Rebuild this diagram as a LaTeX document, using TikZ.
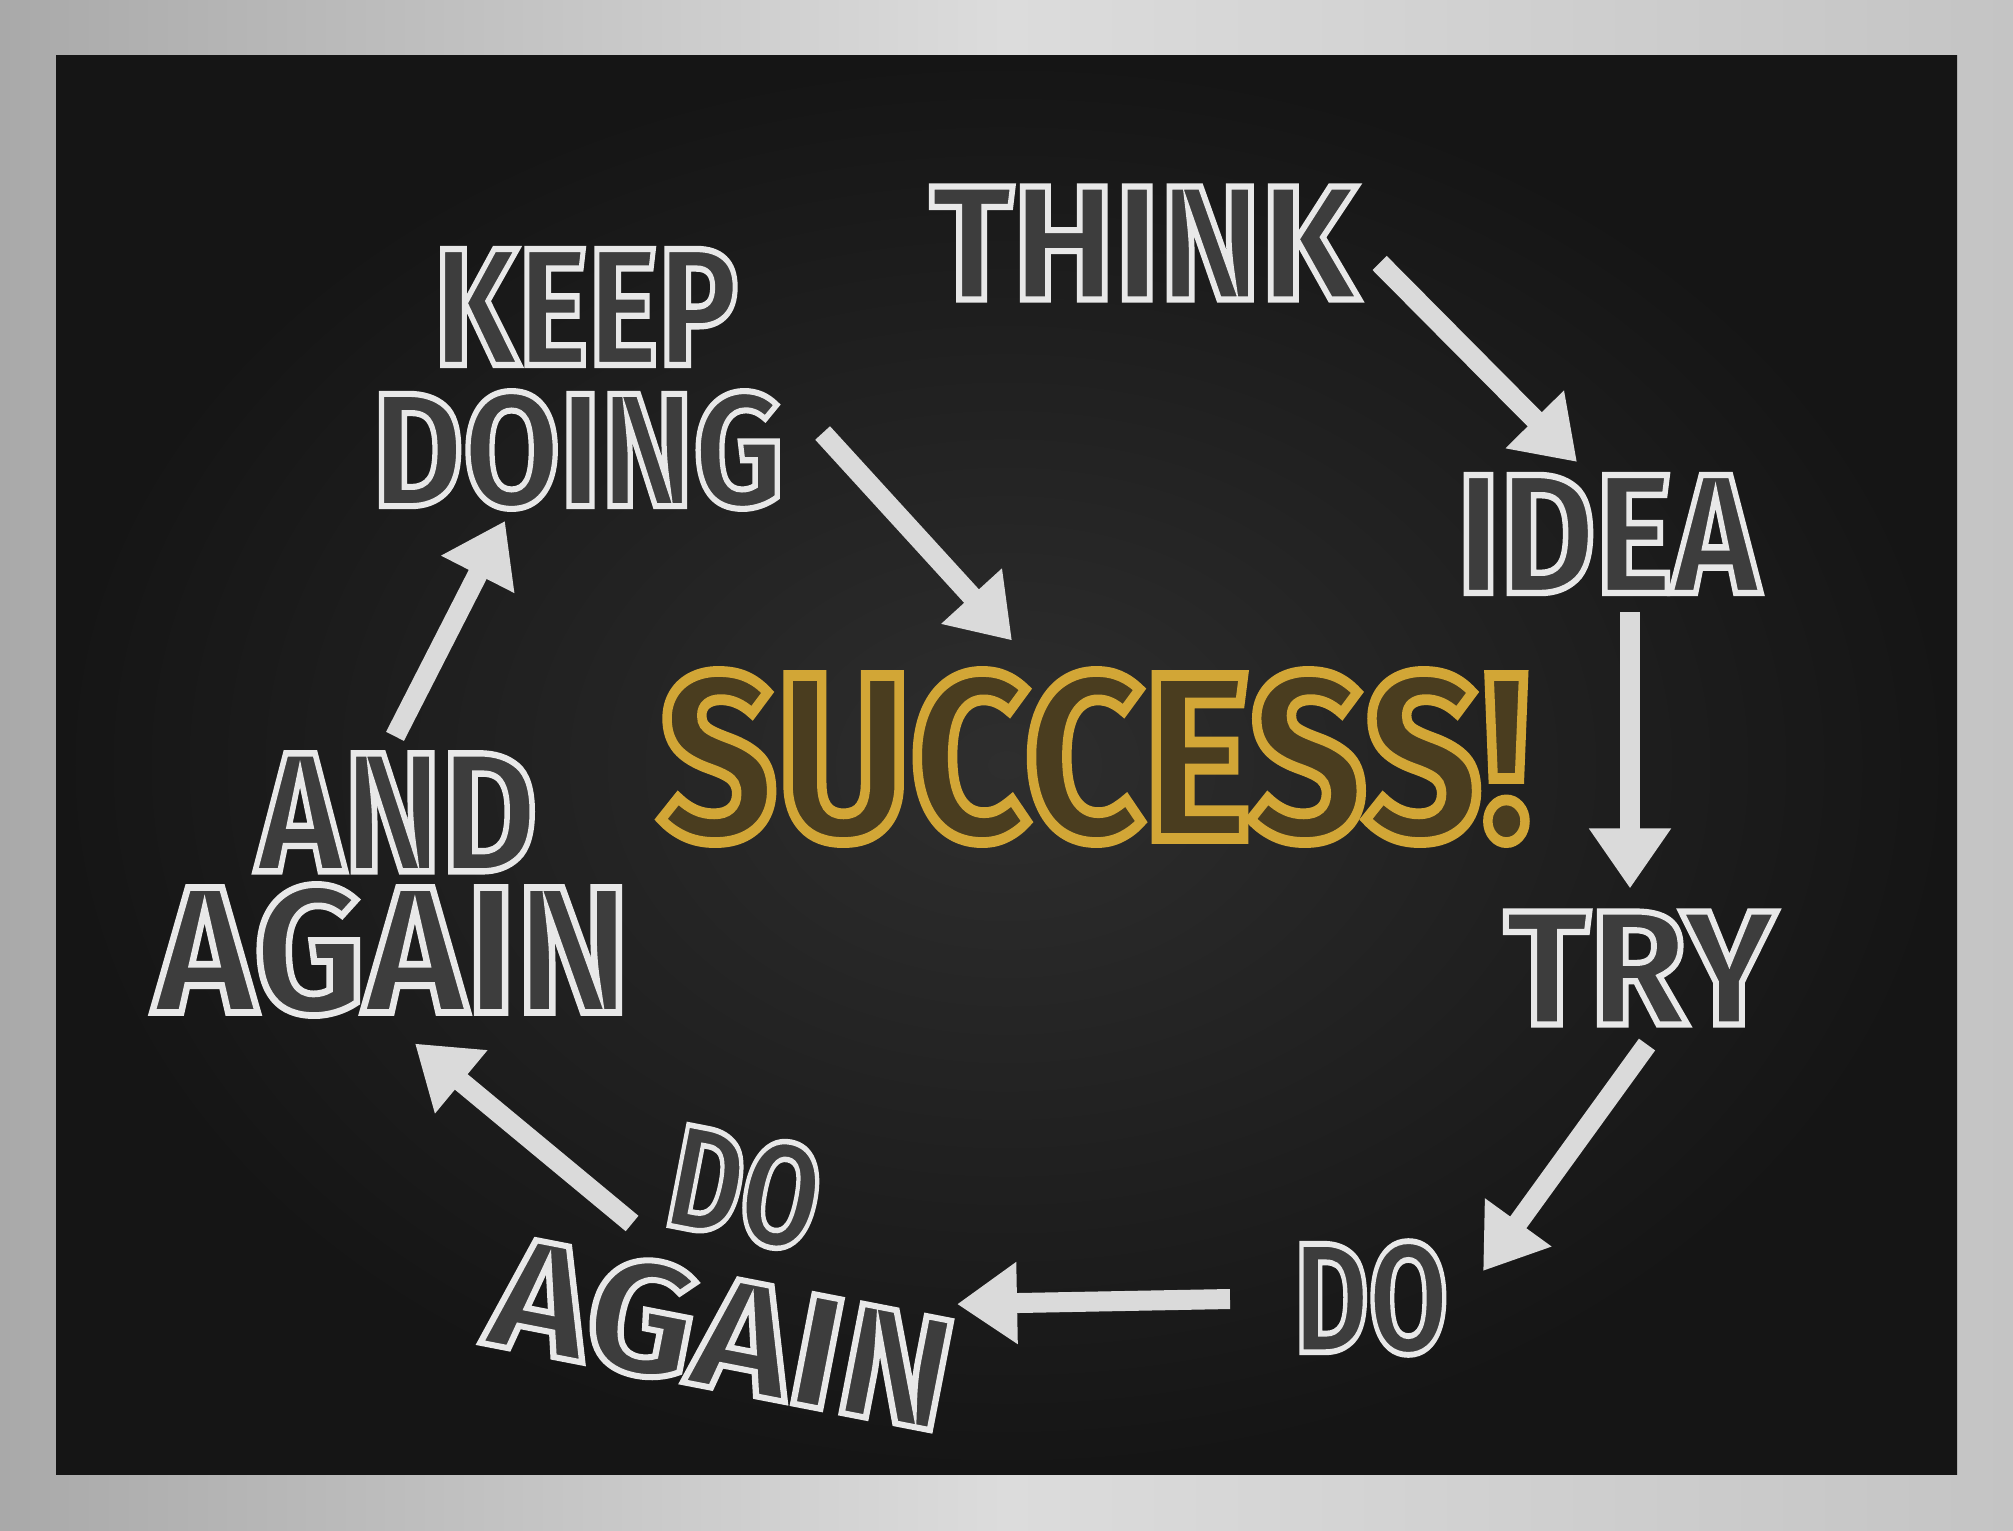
\documentclass[tikz,border=0pt]{standalone}
\usepackage{fontspec}
\setmainfont{Fira Sans}
\usetikzlibrary{arrows.meta,positioning}
\definecolor{chalk}{HTML}{E8E8E8}
\definecolor{chalkline}{HTML}{DADADA}
\definecolor{gold}{HTML}{D2A636}
\definecolor{boardmid}{HTML}{2E2E2E}
\definecolor{boardedge}{HTML}{151515}
\definecolor{silverdark}{HTML}{A9A9A9}
\definecolor{silverlight}{HTML}{DCDCDC}
\definecolor{silvermid}{HTML}{C4C4C4}
% stroked letters: outline in the text colour, dark inside
\newcommand{\chalkword}[3]{\resizebox{#1}{#2}{\fontsize{48}{48}\selectfont\bfseries\color{chalk}%
  \special{pdf:literal direct 2 Tr 1.8 w 0.24 0.24 0.24 rg}#3\special{pdf:literal direct 0 Tr}}}
\newcommand{\goldword}[3]{\resizebox{#1}{#2}{\fontsize{48}{48}\selectfont\bfseries\color{gold}%
  \special{pdf:literal direct 2 Tr 2.2 w 0.29 0.24 0.12 rg}#3\special{pdf:literal direct 0 Tr}}}

\begin{document}
\begin{tikzpicture}[
  x=0.01cm, y=-0.01cm,
  word/.style={inner sep=0pt, outer sep=0pt},
  arrow/.style={-{Triangle[width=7.8mm,length=6mm]}, line width=2mm, draw=chalkline}
]
% frame and board
\shade[left color=silverdark, right color=silvermid, middle color=silverlight] (0,0) rectangle (2013,1531);
\shade[inner color=boardmid, outer color=boardedge] (56,56) rectangle (1957,1474);

\node[word] (think) at (1144,243) {\chalkword{4.27cm}{1.13cm}{THINK}};
\node[word] (doing) at (578,450) {\chalkword{4.11cm}{1.15cm}{DOING}};
\node[word, above=2.6mm of doing, xshift=0.8mm] (keep) {\chalkword{3.04cm}{1.16cm}{KEEP}};
\node[word] (idea) at (1608,534) {\chalkword{3.02cm}{1.18cm}{IDEA}};
\node[word] (success) at (1095,757) {\goldword{8.71cm}{1.67cm}{SUCCESS!}};
\node[word] (try) at (1640,968) {\chalkword{2.71cm}{1.13cm}{TRY}};
\node[word] (againl) at (392,950) {\chalkword{4.75cm}{1.28cm}{AGAIN}};
\node[word, above=1.3mm of againl, xshift=0.5mm] (and) {\chalkword{2.80cm}{1.18cm}{AND}};
\node[word, rotate=-11] (domid) at (745,1188) {\chalkword{1.50cm}{1.05cm}{DO}};
\node[word, rotate=-11] (againb) at (722,1333) {\chalkword{4.66cm}{1.14cm}{AGAIN}};
\node[word] (dor) at (1371,1298) {\chalkword{1.54cm}{1.11cm}{DO}};

% the cycle
\draw[arrow] ([shift={(22,20)}]think.east) -- ([shift={(-31,-13)}]idea.north);
\draw[arrow] ([shift={(22,19)}]idea.south) -- ([shift={(-10,-23)}]try.north);
\draw[arrow] ([shift={(7,20)}]try.south) -- ([shift={(35,-27)}]dor.east);
\draw[arrow] ([shift={(-64,1)}]dor.west) -- ([shift={(-5,-16)}]againb.north east);
\draw[arrow] ([shift={(-29,-3)}]domid.south west) -- ([shift={(23,28)}]againl.south);
\draw[arrow] ([shift={(-2,-17)}]and.north) -- ([shift={(-73,12)}]doing.south);
\draw[arrow] ([shift={(39,-17)}]doing.east) -- ([shift={(-83,-31)}]success.north);
\end{tikzpicture}
\end{document}
